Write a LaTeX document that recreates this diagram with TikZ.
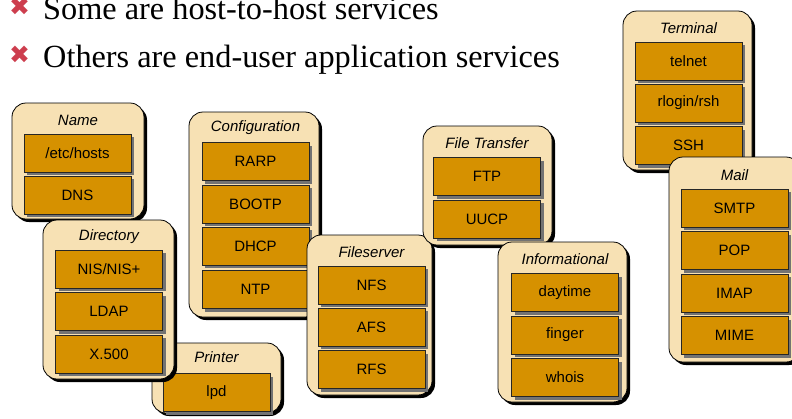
\documentclass[tikz,border=0pt]{standalone}
\usepackage{fontspec}
\setmainfont{Liberation Serif}
\setsansfont{Liberation Sans}
\newfontfamily\symfont{DejaVu Sans}
\usetikzlibrary{shadows}
\definecolor{panelfill}{RGB}{247,225,180}
\definecolor{itemfill}{RGB}{214,145,0}
\definecolor{bulletred}{RGB}{205,62,78}
\tikzset{
  grp/.style={draw=black, line width=0.8pt, fill=panelfill, rounded corners=14pt, inner sep=0pt,
    drop shadow={shadow xshift=3pt, shadow yshift=-3pt, fill=black, opacity=1, rounded corners=14pt}},
  svc/.style={draw=black!85, line width=0.6pt, fill=itemfill, minimum width=107pt, minimum height=38pt,
    inner sep=0pt, font=\sffamily\fontsize{15}{15}\selectfont,
    drop shadow={shadow xshift=3pt, shadow yshift=-3pt, fill=black!55, opacity=1}},
  ttl/.style={font=\sffamily\itshape\fontsize{15}{15}\selectfont, inner sep=0pt},
  bul/.style={font=\symfont\fontsize{25}{25}\selectfont, text=bulletred, inner sep=0pt},
  line/.style={font=\fontsize{32.3}{32.3}\selectfont, anchor=base west, inner sep=0pt},
}
% panel: name, left, top, right, bottom
\newcommand\panel[5]{%
  \node[grp, minimum width=\fpeval{#4-#2}pt, minimum height=\fpeval{#5-#3}pt]
    (#1) at ({(#2+#4)/2},{(#3+#5)/2}) {};}
\begin{document}
\begin{tikzpicture}[x=1pt,y=-1pt]
\useasboundingbox (0,0) rectangle (792,418);
\clip (0,0) rectangle (792,418);

% heading bullets
\node[bul] (b1) at (19.5,6.5) {✖};
\node[line] (l1) at (43,19) {Some are host-to-host services};
\node[bul] (b2) at (19.5,55) {✖};
\node[line] (l2) at (43,67) {Others are end-user application services};

% Name
\panel{name}{12}{103}{144}{219}
\node[ttl] (name-t) at (78,120) {Name};
\node[svc] (hosts) at (77.5,153) {/etc/hosts};
\node[svc] (dns) at (77.5,195) {DNS};

% Printer
\panel{printer}{152}{343}{281}{413}
\node[ttl] (printer-t) at (216.5,357) {Printer};
\node[svc] (lpd) at (216.5,392.5) {lpd};

% Directory
\panel{directory}{43}{220}{174}{379}
\node[ttl] (directory-t) at (109,237) {Directory};
\node[svc] (nis) at (109,269) {NIS/NIS+};
\node[svc] (ldap) at (109,311.5) {LDAP};
\node[svc] (x500) at (109,354) {X.500};

% Configuration
\panel{config}{189}{112}{319}{317}
\node[ttl] (config-t) at (255.5,128) {Configuration};
\node[svc] (rarp) at (255.5,161.5) {RARP};
\node[svc] (bootp) at (255.5,204) {BOOTP};
\node[svc] (dhcp) at (255.5,246) {DHCP};
\node[svc] (ntp) at (255.5,289.5) {NTP};

% Fileserver
\panel{files}{307}{235}{432}{395}
\node[ttl] (files-t) at (371.5,252) {Fileserver};
\node[svc] (nfs) at (371.5,285) {NFS};
\node[svc] (afs) at (371.5,327) {AFS};
\node[svc] (rfs) at (371.5,369.5) {RFS};

% File Transfer
\panel{xfer}{423}{126}{552}{245}
\node[ttl] (xfer-t) at (487,143) {File Transfer};
\node[svc] (ftp) at (487,176.5) {FTP};
\node[svc] (uucp) at (487,219) {UUCP};

% Informational
\panel{info}{498}{242}{627}{402}
\node[ttl] (info-t) at (565,259) {Informational};
\node[svc] (daytime) at (565,292.5) {daytime};
\node[svc] (finger) at (565,335) {finger};
\node[svc] (whois) at (565,377.5) {whois};

% Terminal
\panel{term}{623}{11}{752}{170}
\node[ttl] (term-t) at (688.5,28) {Terminal};
\node[svc] (telnet) at (688.5,61) {telnet};
\node[svc] (rlogin) at (688.5,103) {rlogin/rsh};
\node[svc] (ssh) at (688.5,145.5) {SSH};

% Mail
\panel{mail}{669}{157}{800}{362}
\node[ttl] (mail-t) at (734.5,175) {Mail};
\node[svc] (smtp) at (734.5,208) {SMTP};
\node[svc] (pop) at (734.5,250.5) {POP};
\node[svc] (imap) at (734.5,293) {IMAP};
\node[svc] (mime) at (734.5,335.5) {MIME};
\end{tikzpicture}
\end{document}
